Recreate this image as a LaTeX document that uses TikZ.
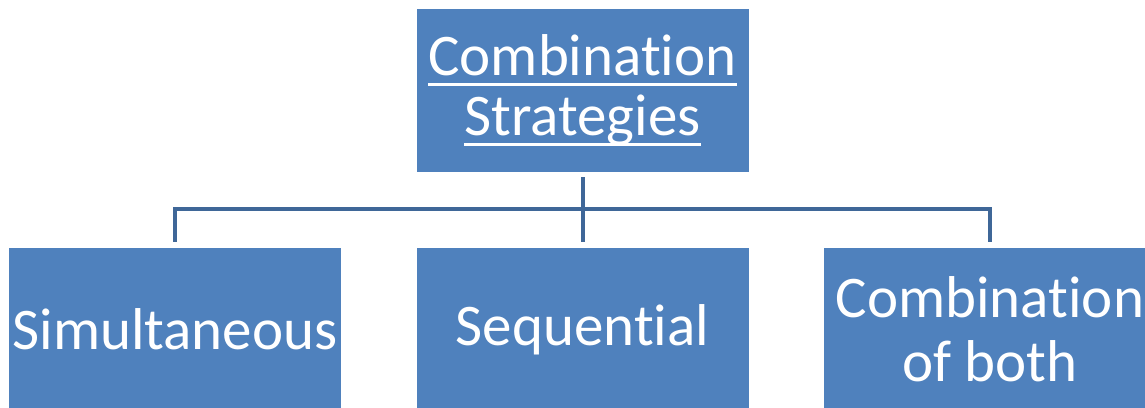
\documentclass[tikz,border=0pt]{standalone}
\usepackage{fontspec}
\setmainfont[Ligatures=NoCommon]{Carlito}
\usepackage{tikz}

\definecolor{boxblue}{HTML}{4F81BD}
\definecolor{linkblue}{HTML}{3F6798}

\newcommand{\ulword}[1]{\setbox0\hbox{#1}\rlap{\rule[-4.8pt]{\wd0}{1.5pt}}\box0}

\begin{document}
\begin{tikzpicture}[x=0.5pt, y=-0.5pt,
    box/.style={rectangle, fill=boxblue, text=white, inner sep=0pt,
        minimum width=166pt, minimum height=81.5pt, align=center,
        font=\fontsize{29.5}{31}\selectfont},
    link/.style={draw=linkblue, line width=2pt, shorten <=2.5pt, shorten >=3pt}]
    \useasboundingbox (0,0) rectangle (1145,407);
    \clip (0,0) rectangle (1145,407);

    % Draw nodes
    \node[box, font=\fontsize{29.5}{30}\selectfont] (top) at (582.5,90.5)
        {\ulword{Combination}\\\ulword{Strategies}};
    \node[box] (simul) at (175,329.5) {Simultaneous};
    \node[box] (seq) at (582.5,329.5) {Sequential};
    \node[box, font=\fontsize{29.5}{32}\selectfont] (both) at (990,329.5) {Combination\\of both};

    % Draw connections
    \coordinate (fork) at (582.5,209);
    \draw[link] (top.south) -- (fork) -| (simul.north);
    \draw[link] (top.south) -- (fork) -| (seq.north);
    \draw[link] (top.south) -- (fork) -| (both.north);
\end{tikzpicture}
\end{document}
